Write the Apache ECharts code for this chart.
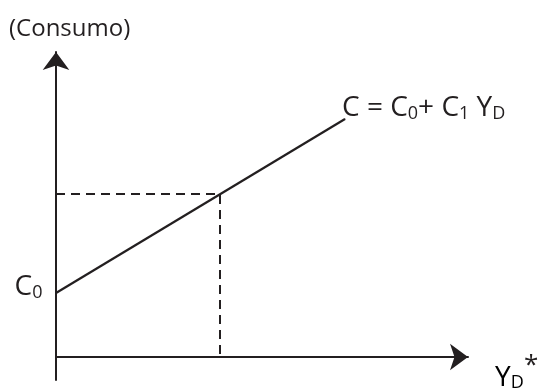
<!DOCTYPE html>
<html>
<head>
<meta charset="utf-8">
<script src="https://cdn.jsdelivr.net/npm/echarts@6/dist/echarts.min.js"></script>
<style>
html, body { margin: 0; padding: 0; background: #fff; }
#chart { width: 543px; height: 389px; }
</style>
</head>
<body>
<div id="chart"></div>
<script>
// unidades arbitrarias, origen en el cruce de los ejes
var consumoLine = [[0, 64], [289, 238]];            // C = C0 + C1 YD
var guideLine = [[0, 163], [164, 163], [164, 0]];   // lineas punteadas hasta YD*
var xRange = [0, 412];
var yRange = [-23, 305];

var inkColor = '#231f20';
var fontName = "'Open Sans', 'DejaVu Sans', sans-serif";

function axisConf(range) {
    return {
        type: 'value',
        min: range[0],
        max: range[1],
        axisLine: {
            show: true,
            onZero: true,
            symbol: ['none', 'arrow'],
            symbolSize: [20, 18],
            lineStyle: { color: inkColor, width: 2 }
        },
        axisTick: { show: false },
        axisLabel: { show: false },
        splitLine: { show: false }
    };
}

// estilos para los subindices
var richText = {
    m: { fontFamily: fontName, fontSize: 28, color: inkColor, lineHeight: 29, verticalAlign: 'bottom' },
    s: { fontFamily: fontName, fontSize: 18, color: inkColor, lineHeight: 19, verticalAlign: 'bottom' }
};

var chart = echarts.init(document.getElementById('chart'));
var option = {
    animation: false,
    backgroundColor: '#fff',
    grid: { left: 56, right: 75, top: 52, bottom: 9 },
    xAxis: axisConf(xRange),
    yAxis: axisConf(yRange),
    series: [
        {
            type: 'line',
            data: [
                {
                    value: consumoLine[0],
                    label: {
                        show: true,
                        position: 'left',
                        distance: 13,
                        offset: [0, -6],
                        formatter: '{m|C}{s|0}',
                        rich: richText
                    }
                },
                {
                    value: consumoLine[1],
                    label: {
                        show: true,
                        position: 'top',
                        align: 'left',
                        distance: 1,
                        offset: [-3, 5],
                        formatter: '{m|C = C}{s|0}{m|+ C}{s|1}{m| Y}{s|D}',
                        rich: richText
                    }
                }
            ],
            symbol: 'circle',
            symbolSize: 1,
            itemStyle: { color: inkColor },
            lineStyle: { color: inkColor, width: 2.2 },
            silent: true,
            z: 3
        },
        {
            type: 'line',
            data: guideLine,
            symbol: 'none',
            lineStyle: { color: inkColor, width: 2, type: [9, 6] },
            silent: true,
            z: 2
        }
    ],
    graphic: [
        {
            type: 'text',
            x: 9,
            y: 29,
            style: {
                text: '(Consumo)',
                fontFamily: fontName,
                fontSize: 24,
                fill: inkColor,
                verticalAlign: 'middle'
            }
        },
        {
            type: 'text',
            x: 495,
            y: 392,
            style: {
                text: '{m|Y}{s|D}',
                rich: richText,
                verticalAlign: 'bottom'
            }
        },
        {
            type: 'text',
            x: 524,
            y: 366,
            style: {
                text: '*',
                fontFamily: fontName,
                fontSize: 26,
                fill: inkColor,
                verticalAlign: 'middle'
            }
        }
    ]
};
chart.setOption(option);
</script>
</body>
</html>
